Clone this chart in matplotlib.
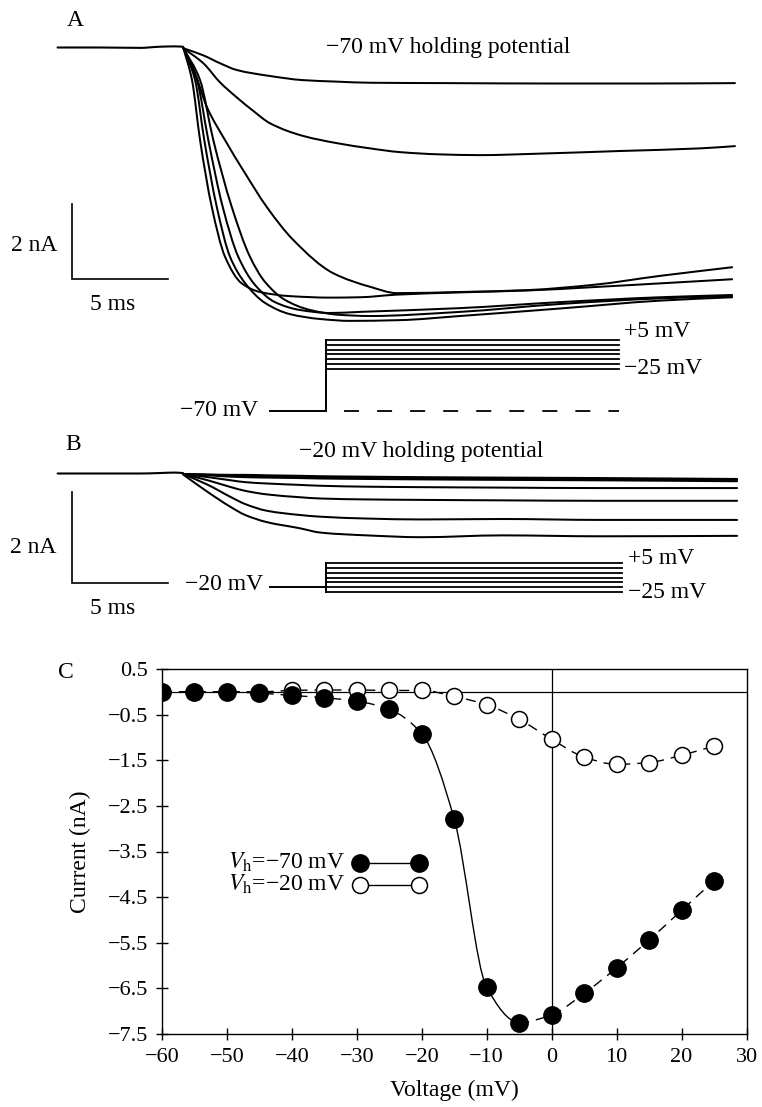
import numpy as np
import matplotlib
matplotlib.use("Agg")
import matplotlib.pyplot as plt
from matplotlib.path import Path
from matplotlib.patches import PathPatch

plt.rcParams['font.family'] = ['Liberation Serif', 'DejaVu Serif']
plt.rcParams['mathtext.fontset'] = 'stix'
plt.rcParams['axes.unicode_minus'] = True

# ====================== DATA ======================
# ---- Panel A: -70 mV holding potential; time (ms), current (nA)
pre_t = [0.0, 2.2, 4.3, 5.3, 6.1, 6.53]
pre_A_i = [0.0, 0.0, -0.01, 0.02, 0.03, 0.02]

tA1 = [6.55, 7.59, 8.46, 9.33, 11.06, 12.78, 14.54, 16.27, 20.44, 25.65, 30.85, 35.28]
iA1 = [-0.02, -0.21, -0.42, -0.60, -0.76, -0.87, -0.91, -0.94, -0.95, -0.96, -0.96, -0.95]

tA2 = [6.55, 7.59, 8.46, 9.33, 10.19, 11.06, 12.80, 14.54, 16.27, 17.83, 19.92, 22.0, 25.13, 29.29, 33.46, 35.28]
iA2 = [-0.02, -0.42, -0.93, -1.33, -1.69, -2.02, -2.36, -2.55, -2.69, -2.79, -2.85, -2.87, -2.83, -2.76, -2.69, -2.63]

tA3 = [6.55, 7.16, 7.77, 8.72, 9.76, 10.89, 12.27, 14.36, 16.27, 17.68, 20.96, 24.45, 27.89, 31.38, 35.13]
iA3 = [-0.01, -0.69, -1.58, -2.47, -3.35, -4.25, -5.13, -6.02, -6.38, -6.55, -6.52, -6.47, -6.33, -6.09, -5.86]

tA4 = [6.55, 7.0, 7.42, 8.03, 8.72, 9.59, 10.54, 12.1, 14.19, 15.75, 17.68, 20.96, 24.45, 27.89, 31.38, 35.13]
iA4 = [-0.01, -0.87, -2.47, -4.25, -5.58, -6.29, -6.52, -6.63, -6.67, -6.66, -6.59, -6.53, -6.48, -6.39, -6.29, -6.18]

tA5 = [6.55, 7.16, 7.64, 8.29, 8.98, 9.76, 10.8, 12.1, 13.67, 15.23, 17.83, 20.96, 26.17, 31.38, 35.13]
iA5 = [-0.01, -0.87, -2.47, -4.25, -5.58, -6.28, -6.81, -7.11, -7.24, -7.29, -7.27, -7.16, -6.96, -6.75, -6.66]

tA6 = [6.55, 7.26, 7.85, 8.6, 9.41, 10.28, 11.32, 12.63, 14.19, 15.75, 20.96, 26.17, 31.38, 35.13]
iA6 = [-0.01, -0.87, -2.47, -4.25, -5.58, -6.33, -6.79, -7.0, -7.08, -7.05, -6.95, -6.79, -6.66, -6.60]

tA7 = [6.55, 7.42, 8.11, 9.07, 10.02, 10.8, 11.84, 13.15, 14.71, 16.27, 20.96, 26.17, 31.38, 35.13]
iA7 = [-0.01, -0.87, -2.47, -4.25, -5.58, -6.25, -6.73, -7.0, -7.13, -7.16, -7.05, -6.84, -6.69, -6.63]

# ---- Panel B: -20 mV holding potential
pre_B_i = [0.0, 0.0, 0.0, 0.01, 0.02, 0.01]
tB = [6.53, 7.83, 9.03, 9.76, 10.91, 12.57, 13.72, 16.11, 18.93, 23.15, 28.25, 35.39]
iB1 = [-0.01, -0.02, -0.03, -0.03, -0.04, -0.05, -0.06, -0.07, -0.08, -0.09, -0.10, -0.12]
iB2 = [-0.01, -0.03, -0.04, -0.05, -0.07, -0.08, -0.08, -0.09, -0.10, -0.11, -0.13, -0.14]
iB3 = [-0.01, -0.04, -0.07, -0.08, -0.09, -0.10, -0.11, -0.12, -0.13, -0.14, -0.15, -0.17]
iB4 = [-0.01, -0.08, -0.15, -0.19, -0.22, -0.25, -0.27, -0.29, -0.30, -0.31, -0.32, -0.32]
iB5 = [-0.01, -0.15, -0.30, -0.38, -0.46, -0.52, -0.55, -0.57, -0.58, -0.59, -0.60, -0.60]
iB6 = [-0.01, -0.25, -0.52, -0.67, -0.82, -0.91, -0.95, -0.99, -1.01, -1.00, -1.02, -1.02]
iB7 = [-0.02, -0.41, -0.74, -0.91, -1.07, -1.20, -1.30, -1.36, -1.40, -1.36, -1.38, -1.37]

# ---- Voltage protocols (ms, mV)
step_levels = [-25, -20, -15, -10, -5, 0, 5]
hold_A = -70
hold_B = -20
t_hold_start = 11.06
t_step_on = 13.96
t_step_end = 29.26

# ---- Scale bars
bar_nA = 2.0
bar_ms = 5.0

# ---- Panel C: I-V relation
voltage = [-60, -55, -50, -45, -40, -35, -30, -25, -20, -15, -10, -5, 0, 5, 10, 15, 20, 25]
cur_vh70 = [0.0, 0.0, 0.0, -0.03, -0.08, -0.13, -0.205, -0.385, -0.92, -2.79, -6.48,
            -7.25, -7.08, -6.61, -6.05, -5.44, -4.79, -4.14]
cur_vh20 = [0.0, 0.0, 0.0, 0.0, 0.03, 0.04, 0.04, 0.03, 0.03, -0.10, -0.285,
            -0.605, -1.04, -1.43, -1.59, -1.55, -1.39, -1.19]
xticks_C = [-60, -50, -40, -30, -20, -10, 0, 10, 20, 30]
yticks_C = [0.5, -0.5, -1.5, -2.5, -3.5, -4.5, -5.5, -6.5, -7.5]
ytick_labels_C = ['0.5', '\u22120.5', '\u22121.5', '\u22122.5', '\u22123.5', '\u22124.5',
                  '\u22125.5', '\u22126.5', '\u22127.5']
xtick_labels_C = ['\u221260', '\u221250', '\u221240', '\u221230', '\u221220', '\u221210',
                  '0', '10', '20', '30']

# ====================== FIGURE ======================
W, H = 762, 1107
fig = plt.figure(figsize=(W / 100, H / 100), dpi=100)

PX_MS = 19.2
T0_PX = 57.6
xlim_tr = (-T0_PX / PX_MS, (W - T0_PX) / PX_MS)

TXT = 17
LW_TR = 1.45


def ftext(x, y, s, **kw):
    fig.text(x / W, 1 - y / H, s, **kw)


def panel_axes(top_px, bot_px):
    ax = fig.add_axes([0, 1 - bot_px / H, 1, (bot_px - top_px) / H])
    ax.set_axis_off()
    ax.patch.set_alpha(0)
    ax.set_xlim(*xlim_tr)
    return ax


def hermite_segments(xs, ys):
    """Cubic Bezier pieces of a shape-preserving (monotone) curve through the points."""
    x = np.asarray(xs, float)
    y = np.asarray(ys, float)
    h = np.diff(x)
    s = np.diff(y) / h
    n = len(x)
    m = np.zeros(n)
    m[0], m[-1] = s[0], s[-1]
    for k in range(1, n - 1):
        if s[k - 1] * s[k] <= 0:
            m[k] = 0.0
        else:
            w1 = 2 * h[k] + h[k - 1]
            w2 = h[k] + 2 * h[k - 1]
            m[k] = (w1 + w2) / (w1 / s[k - 1] + w2 / s[k])
    segs = []
    for k in range(n - 1):
        d = h[k] / 3.0
        segs.append(((x[k], y[k]), (x[k] + d, y[k] + m[k] * d),
                     (x[k + 1] - d, y[k + 1] - m[k + 1] * d), (x[k + 1], y[k + 1])))
    return segs


def make_path(segs):
    verts, codes = [], []
    prev_end = None
    for sg in segs:
        if prev_end is None or not np.allclose(prev_end, sg[0]):
            verts.append(sg[0]); codes.append(Path.MOVETO)
        verts += [sg[1], sg[2], sg[3]]
        codes += [Path.CURVE4] * 3
        prev_end = sg[3]
    return Path(verts, codes)


def smooth_line(ax, xs, ys, **kw):
    kw.setdefault('capstyle', 'round')
    kw.setdefault('joinstyle', 'round')
    ax.add_patch(PathPatch(make_path(hermite_segments(xs, ys)), fill=False,
                           edgecolor='black', **kw))


# ---------------- Panel A ----------------
A_top, A_bot = 0, 430
axA = panel_axes(A_top, A_bot)
baseA, pxnA = 47.5, 37.5
axA.set_ylim((baseA - A_bot) / pxnA, (baseA - A_top) / pxnA)
smooth_line(axA, pre_t, pre_A_i, lw=1.5)
for t, i in [(tA1, iA1), (tA2, iA2), (tA3, iA3), (tA4, iA4), (tA5, iA5), (tA6, iA6), (tA7, iA7)]:
    smooth_line(axA, t, i, lw=LW_TR)
# scale bar
sb_t0 = 0.75
sb_top = -4.17
axA.plot([sb_t0, sb_t0, sb_t0 + bar_ms], [sb_top, sb_top - bar_nA, sb_top - bar_nA],
         color='black', lw=1.2, solid_joinstyle='miter')

axAV = panel_axes(A_top, A_bot)
holdA_px, pxmvA = 411.0, 0.943
axAV.set_ylim(hold_A + (holdA_px - A_bot) / pxmvA, hold_A + (holdA_px - A_top) / pxmvA)
axAV.plot([t_hold_start, t_step_on], [hold_A, hold_A], color='black', lw=1.4)
axAV.plot([t_step_on, t_step_end], [hold_A, hold_A], color='black', lw=1.3,
          linestyle=(8.3, (8.3, 10.0)))
axAV.plot([t_step_on, t_step_on], [hold_A, max(step_levels)], color='black', lw=1.4)
for v in step_levels:
    axAV.plot([t_step_on, t_step_end], [v, v], color='black', lw=1.3)

ftext(75, 21, 'A', fontsize=TXT, ha='center', va='center')
ftext(326, 47, '\u221270 mV holding potential', fontsize=TXT, ha='left', va='center')
ftext(57, 245, '2 nA', fontsize=TXT, ha='right', va='center')
ftext(113, 304, '5 ms', fontsize=TXT, ha='center', va='center')
ftext(624, 332, '+5 mV', fontsize=TXT, ha='left', va='center')
ftext(624, 368, '\u221225 mV', fontsize=TXT, ha='left', va='center')
ftext(258, 411, '\u221270 mV', fontsize=TXT, ha='right', va='center')

# ---------------- Panel B ----------------
B_top, B_bot = 430, 640
axB = panel_axes(B_top, B_bot)
baseB, pxnB = 473.5, 45.5
axB.set_ylim((baseB - B_bot) / pxnB, (baseB - B_top) / pxnB)
smooth_line(axB, pre_t, pre_B_i, lw=1.5)
for i in [iB1, iB2, iB3, iB4, iB5, iB6, iB7]:
    smooth_line(axB, tB, i, lw=LW_TR)
sbB_top = -0.40
axB.plot([sb_t0, sb_t0, sb_t0 + bar_ms], [sbB_top, sbB_top - bar_nA, sbB_top - bar_nA],
         color='black', lw=1.2, solid_joinstyle='miter')

axBV = panel_axes(B_top, B_bot)
holdB_px, pxmvB = 587.4, 0.987
axBV.set_ylim(hold_B + (holdB_px - B_bot) / pxmvB, hold_B + (holdB_px - B_top) / pxmvB)
axBV.plot([t_hold_start, t_step_on], [hold_B, hold_B], color='black', lw=1.4)
axBV.plot([t_step_on, t_step_on], [min(step_levels), max(step_levels)], color='black', lw=1.4)
for v in step_levels:
    axBV.plot([t_step_on, t_step_end + 0.15], [v, v], color='black', lw=1.3)

ftext(73, 445, 'B', fontsize=TXT, ha='center', va='center')
ftext(299, 451, '\u221220 mV holding potential', fontsize=TXT, ha='left', va='center')
ftext(56, 547, '2 nA', fontsize=TXT, ha='right', va='center')
ftext(113, 608, '5 ms', fontsize=TXT, ha='center', va='center')
ftext(628, 558, '+5 mV', fontsize=TXT, ha='left', va='center')
ftext(628, 593, '\u221225 mV', fontsize=TXT, ha='left', va='center')
ftext(263, 585, '\u221220 mV', fontsize=TXT, ha='right', va='center')

# ---------------- Panel C ----------------
L, R, T, B = 162, 746.5, 669, 1034
axC = fig.add_axes([L / W, 1 - B / H, (R - L) / W, (B - T) / H])
axC.set_xlim(-60, 30)
axC.set_ylim(-7.5, 0.5)
for sp in axC.spines.values():
    sp.set_linewidth(1.0)
axC.axhline(0, color='black', lw=0.9, zorder=1)
axC.axvline(0, color='black', lw=0.9, zorder=1)
axC.set_xticks(xticks_C)
axC.set_xticklabels(xtick_labels_C)
axC.set_yticks(yticks_C)
axC.set_yticklabels(ytick_labels_C)
axC.tick_params(direction='inout', length=8, width=1.0, labelsize=16, pad=6)
axC.tick_params(axis='y', pad=6)

DASH = (0, (7.2, 5.0))
smooth_line(axC, voltage, cur_vh20, lw=1.0, linestyle=DASH, zorder=2, capstyle='butt')
axC.plot(voltage, cur_vh20, linestyle='none', marker='o', ms=11.5, mfc='white',
         mec='black', mew=1.1, zorder=3)

segs70 = hermite_segments(voltage, cur_vh70)
i_a = voltage.index(-20)
i_b = voltage.index(-5)
for part, ls in [(segs70[:i_a], DASH), (segs70[i_b:], DASH), (segs70[i_a:i_b], '-')]:
    axC.add_patch(PathPatch(make_path(part), fill=False, edgecolor='black', lw=1.0,
                            linestyle=ls, zorder=4))
axC.plot(voltage, cur_vh70, linestyle='none', marker='o', ms=12.5, mfc='black',
         mec='black', zorder=5)

# legend (drawn manually like the original)
leg_rows = [-3.745, -4.23]
axC.text(-49.8, leg_rows[0], '$V_{\\mathrm{h}}$=\u221270 mV', fontsize=TXT, ha='left', va='center')
axC.text(-49.8, leg_rows[1], '$V_{\\mathrm{h}}$=\u221220 mV', fontsize=TXT, ha='left', va='center')
axC.plot([-29.5, -20.5], [leg_rows[0]] * 2, color='black', lw=1.0, marker='o', ms=12.5,
         mfc='black', mec='black', zorder=5)
axC.plot([-29.5, -20.5], [leg_rows[1]] * 2, color='black', lw=1.0, marker='o', ms=11.5,
         mfc='white', mec='black', mew=1.1, zorder=5)

axC.set_xlabel('Voltage (mV)', fontsize=TXT)
axC.set_ylabel('Current (nA)', fontsize=TXT)
axC.xaxis.set_label_coords(0.5, -0.125)
axC.yaxis.set_label_coords(-0.122, 0.5)
ftext(66, 673, 'C', fontsize=TXT, ha='center', va='center')

fig.savefig('out.png', dpi=100)
